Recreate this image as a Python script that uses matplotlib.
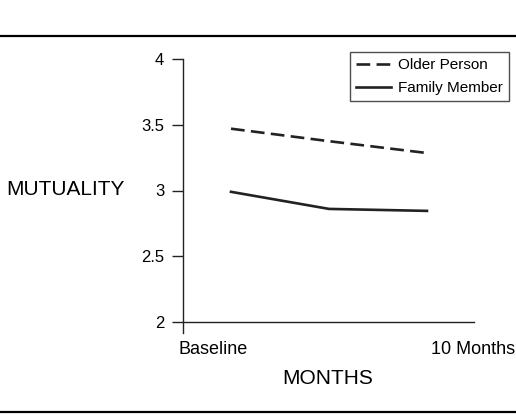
import matplotlib.pyplot as plt
from matplotlib.lines import Line2D

plt.rcParams['font.family'] = ['Liberation Sans', 'DejaVu Sans']

# data
months = [0, 5, 10]
older_person = [3.47, 3.375, 3.285]
family_member = [2.99, 2.86, 2.845]
y_ticks = [2, 2.5, 3, 3.5, 4]
y_tick_labels = ['2', '2.5', '3', '3.5', '4']
x_tick_labels = ['Baseline', '10 Months']

W, H = 516, 416
fig = plt.figure(figsize=(W / 100, H / 100), dpi=100)

# axes placed in pixel terms
x0, x1 = 183, 474
y_top = 59
y_two = 322
y_low = 333
ax = fig.add_axes([x0 / W, (H - y_low) / H, (x1 - x0) / W, (y_low - y_top) / H])

ymin = 2 - (y_low - y_two) / (y_two - y_top) * 2
ax.set_ylim(ymin, 4)
px_per_month = (427 - 231) / 10
ax.set_xlim(-(231 - x0) / px_per_month, 10 + (x1 - 427) / px_per_month)

ax.plot(months, older_person, color='#222222', lw=1.9, dashes=(5.2, 2.4),
        label='Older Person')
ax.plot(months, family_member, color='#222222', lw=1.9, label='Family Member')

for s in ['top', 'right']:
    ax.spines[s].set_visible(False)
ax.spines['bottom'].set_position(('data', 2))
ax.spines['left'].set_bounds(ymin, 4)
for s in ['left', 'bottom']:
    ax.spines[s].set_linewidth(1.0)
    ax.spines[s].set_color('#222222')

ax.set_yticks(y_ticks)
ax.set_yticklabels(y_tick_labels, fontsize=12)
ax.tick_params(axis='y', length=8, width=1.0, pad=5.5, color='#222222')

ax.set_xticks([-0.9, 12.35])
ax.set_xticklabels(x_tick_labels, fontsize=13)
ax.tick_params(axis='x', length=0, pad=14)
for lbl in ax.get_xticklabels():
    lbl.set_clip_on(False)

leg = ax.legend(loc='upper right', bbox_to_anchor=(509 / W, (H - 52) / H),
                bbox_transform=fig.transFigure, fontsize=11, frameon=True,
                fancybox=False, handlelength=2.3, handletextpad=0.45,
                labelspacing=0.6, borderpad=0.4, borderaxespad=0)
leg.get_frame().set_edgecolor('#222222')
leg.get_frame().set_linewidth(1.0)

fig.text(65.5 / W, 1 - 190 / H, 'MUTUALITY', fontsize=15, ha='center', va='center')
fig.text(328 / W, 1 - 379 / H, 'MONTHS', fontsize=15, ha='center', va='center')

# rules above and below the figure
fig.add_artist(Line2D([0, 1], [1 - 36 / H, 1 - 36 / H], color='black', lw=1.6,
                      transform=fig.transFigure))
fig.add_artist(Line2D([0, 1], [1 - 412 / H, 1 - 412 / H], color='black', lw=1.6,
                      transform=fig.transFigure))

fig.savefig('out.png', dpi=100)
